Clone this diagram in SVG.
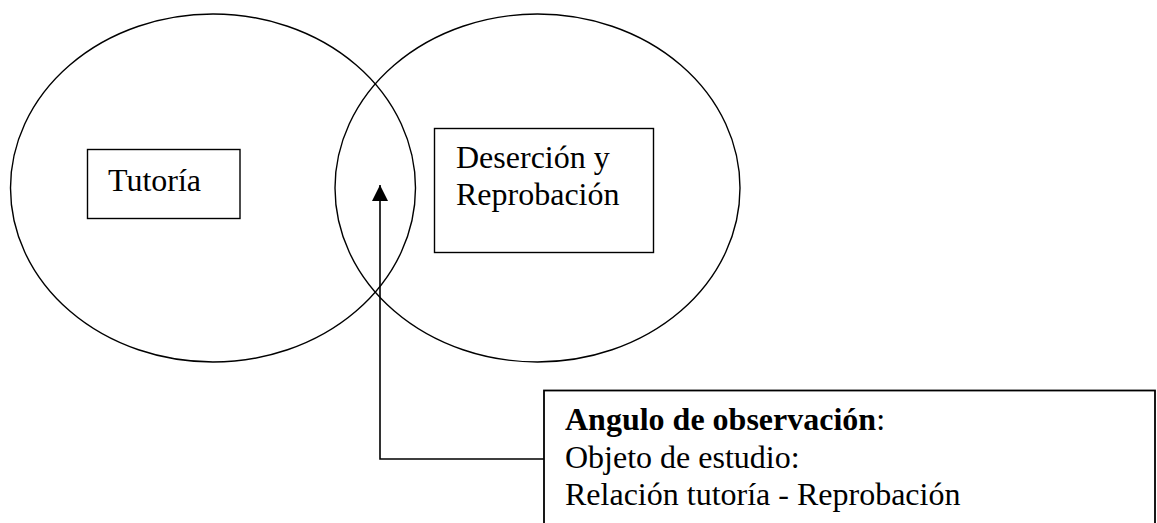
<svg xmlns="http://www.w3.org/2000/svg" width="1157" height="523" viewBox="0 0 1157 523">
<style>
.shape{fill:none;stroke:#000;stroke-width:1.4}
.lbl{font-family:"Liberation Serif","Times New Roman",serif;font-size:32px;fill:#000}
.conn{fill:none;stroke:#000;stroke-width:1.6}
</style>
<defs>
<marker id="arr" markerUnits="userSpaceOnUse" markerWidth="18" markerHeight="18" refX="16" refY="8" orient="auto">
<path d="M0,0 L16,8 L0,16 Z" fill="#000"/>
</marker>
</defs>
<rect width="1157" height="523" fill="#fff"/>
<g id="circle-tutoria">
<ellipse class="shape" cx="213" cy="188" rx="202.5" ry="174"/>
</g>
<g id="circle-desercion">
<ellipse class="shape" cx="537.5" cy="188" rx="202.5" ry="174"/>
</g>
<g id="node-tutoria">
<rect class="shape" x="87.5" y="149.5" width="152.5" height="69"/>
<text class="lbl" x="108" y="190.5">Tutoría</text>
</g>
<g id="node-desercion">
<rect class="shape" x="434.5" y="128.5" width="219" height="124"/>
<text class="lbl" x="456" y="168">Deserción y</text>
<text class="lbl" x="456" y="205">Reprobación</text>
</g>
<g id="node-angulo">
<rect class="shape" style="stroke-width:1.8" x="544" y="390.5" width="611" height="150"/>
<text class="lbl" x="565" y="430"><tspan font-weight="bold">Angulo de observación</tspan>:</text>
<text class="lbl" x="565" y="467.5">Objeto de estudio:</text>
<text class="lbl" x="565" y="505">Relación tutoría - Reprobación</text>
</g>
<g id="connectors">
<path class="conn" d="M544,459 L380,459 L380,185" marker-end="url(#arr)"/>
</g>
</svg>
